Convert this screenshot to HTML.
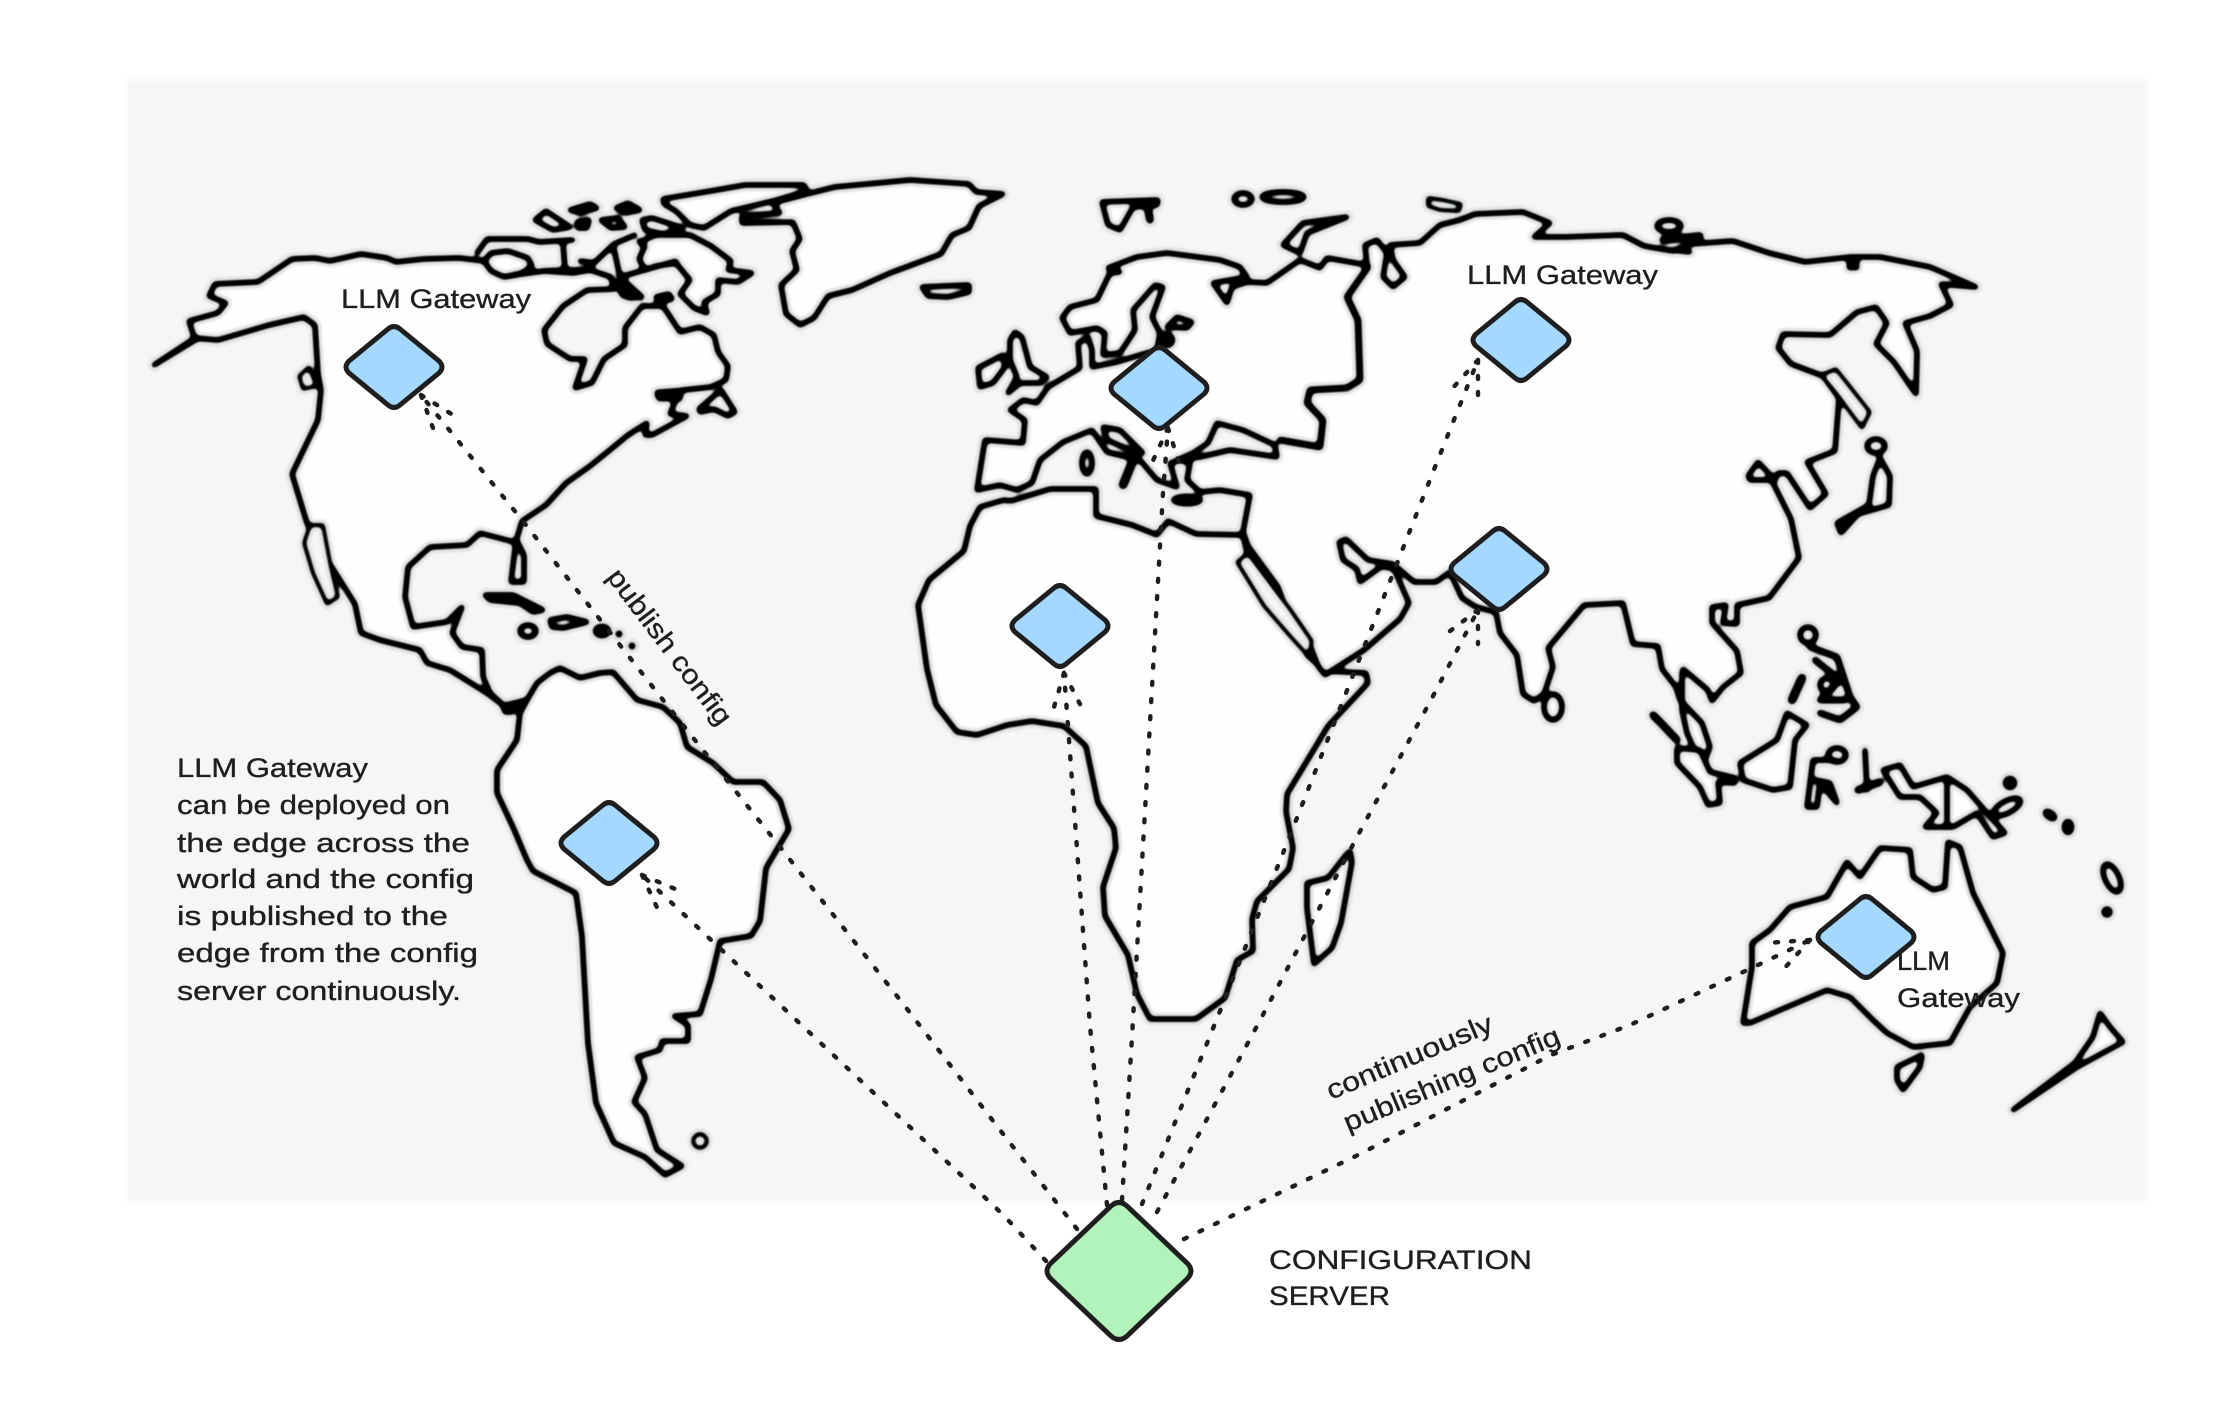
<!DOCTYPE html>
<html><head><meta charset="utf-8">
<style>
html,body{margin:0;padding:0;background:#fff}
svg{display:block}
.l{fill:#fefefe;stroke:#000;stroke-width:5.8;stroke-linejoin:round;stroke-linecap:round}
.g{fill:#f5f7f7;stroke:#000;stroke-width:5.8;stroke-linejoin:round;stroke-linecap:round}
.t{fill:#f5f7f7;stroke:#000;stroke-width:4.2;stroke-linejoin:round;stroke-linecap:round}
.n{fill:none;stroke:#000;stroke-width:5.8;stroke-linejoin:round;stroke-linecap:round}
.b{fill:#000;stroke:#000;stroke-width:3}
.d{fill:none;stroke:#1e1e1e;stroke-width:4.4;stroke-linecap:round;stroke-linejoin:round;stroke-dasharray:3 14.2}
.a{fill:none;stroke:#1e1e1e;stroke-width:4.4;stroke-linecap:round;stroke-dasharray:3 13}
.k{stroke:#1e1e1e;stroke-width:5;stroke-linejoin:round}
text{font-family:"Liberation Sans",sans-serif;font-size:27px;fill:#1e1e1e;stroke:#1e1e1e;stroke-width:.35}
</style></head><body>
<svg width="2240" height="1414" viewBox="0 0 2240 1414" xmlns="http://www.w3.org/2000/svg">
<defs><filter id="s" filterUnits="userSpaceOnUse" x="0" y="0" width="2240" height="1414" color-interpolation-filters="sRGB">
<feGaussianBlur stdDeviation="2.2"/>
<feComponentTransfer>
<feFuncR type="table" tableValues="0 0 0 0 .05 .45 .82 .88 .9 .9 1"/>
<feFuncG type="table" tableValues="0 0 0 0 .05 .45 .82 .88 .9 .9 1"/>
<feFuncB type="table" tableValues="0 0 0 0 .05 .45 .82 .88 .9 .9 1"/>
</feComponentTransfer>
<feGaussianBlur stdDeviation="0.6"/>
</filter></defs>
<g filter="url(#s)">
<rect width="2240" height="1414" fill="#fff"/>
<rect x="126" y="80" width="2022" height="1121" fill="#f5f7f7"/>
<!-- North America -->
<polygon class="l" points="154,365 195,340 189,321 218,313 226,303 209,296 215,284 258,282 292,259 315,258 330,261 361,254 387,258 396,262 424,259 459,258 484,261 491,271 504,277 522,274 544,271 573,273 590,270 611,277 614,289 587,290 563,306 544,330 547,344 570,359 585,359 575,388 592,383 604,359 625,345 625,328 642,306 663,306 680,332 700,327 714,335 718,352 728,366 726,380 711,387 683,390 657,395 676,399 670,414 687,416 652,435 645,435 647,423 628,435 611,449 590,466 566,483 546,505 522,521 516,541 511,582 524,582 524,555 518,543 480,533 467,545 430,547 408,567 405,597 413,627 447,622 462,607 452,633 462,647 482,650 483,677 490,693 503,705 487,693 450,670 427,663 420,650 380,640 361,633 355,604 321,550 307,523 292,474 318,420 321,390 318,374 315,325 304,317 269,325 218,340 195,338"/>
<polygon class="t" points="310,525 323,525 330,562 338,597 327,604 313,573 304,543"/>
<polygon class="t" points="299,376 309,367 317,386 303,389"/>
<polygon class="l" points="484,261 491,253 508,251 528,258 532,266 522,273 504,277 491,271"/>
<polyline class="n" points="477,253 487,239 528,239 539,242 573,240"/>
<polyline class="n" points="563,242 565,270 544,271"/>
<polyline class="n" points="565,270 587,270 594,263 580,261"/>
<polyline class="n" points="594,263 614,244 635,235"/>
<polygon class="l" points="639,242 656,235 690,235 711,246 731,261 728,270 752,273 738,282 718,280 718,294 704,302 707,313 694,308 680,294 690,280 676,263 656,266 645,270 639,259 645,246"/>
<polyline class="n" points="614,249 620,277 642,297"/>
<polyline class="n" points="620,277 676,261"/>
<polygon class="l" points="618,283 632,292 642,297 630,298 622,295"/>
<polygon class="g" points="656,297 669,294 672,299 658,302"/>
<polygon class="l" points="535,220 546,211 570,227 553,230"/>
<polygon class="g" points="570,210 590,204 597,208 580,213"/>
<polygon class="g" points="577,222 589,220 587,228 578,228"/>
<polygon class="g" points="601,220 618,218 625,227 611,228"/>
<polygon class="g" points="616,208 628,203 640,210 625,213"/>
<polygon class="l" points="642,220 652,218 683,228 663,234 645,230"/>
<polygon class="l" points="663,199 711,191 745,185 804,185 807,191 773,201 731,211 704,228 690,225 676,211 664,204"/>
<polygon class="l" points="773,203 807,194 835,187 910,180 969,184 976,192 1003,194 979,206 969,228 952,235 941,254 890,273 852,290 828,296 814,318 800,325 786,314 781,285 797,270 792,251 800,239 793,222 742,223 742,216 780,213"/>
<polygon class="g" points="922,287 969,285 969,292 948,297 928,296"/>
<polygon class="l" points="699,409 721,390 735,412 728,416 714,409 700,412"/>
<polygon class="b" points="656,391 683,389 681,400 658,400"/>
<!-- Caribbean -->
<polygon class="g" points="485,595 513,595 523,600 543,610 533,612 520,603 490,600"/>
<polygon class="l" points="550,620 567,617 587,622 563,628 552,627"/>
<ellipse class="g" cx="528" cy="631" rx="8" ry="6"/>
<ellipse class="b" cx="602" cy="631" rx="8" ry="6"/>
<circle class="b" cx="619" cy="634" r="2.5"/><circle class="b" cx="632" cy="646" r="2.5"/>
<!-- South America -->
<polygon class="l" points="527,700 520,713 517,740 497,770 497,793 513,827 527,860 533,871 576,893 582,936 588,1043 596,1103 614,1143 645,1157 665,1175 682,1166 657,1150 645,1114 634,1102 645,1078 637,1057 660,1050 662,1041 688,1041 688,1025 674,1016 700,1014 711,979 720,941 751,936 760,921 766,868 789,829 780,800 763,782 733,782 713,763 687,747 680,723 663,707 637,700 613,672 600,673 580,678 560,668 550,673 537,683"/>
<polygon class="g" points="503,706 527,700 512,712 505,712"/>
<circle class="t" cx="700" cy="1141" r="7"/>
<!-- Africa -->
<polygon class="l" points="1004,500 980,507 970,526 964,551 929,580 918,605 927,669 936,705 957,732 977,735 1007,725 1032,721 1064,726 1086,746 1098,803 1114,828 1116,848 1103,887 1105,916 1128,955 1137,994 1150,1019 1196,1019 1225,998 1237,960 1253,951 1252,919 1257,901 1289,869 1293,848 1286,812 1287,794 1328,726 1368,683 1366,673 1325,671 1307,655 1300,633 1275,612 1243,562 1248,557 1243,535 1196,534 1168,521 1157,535 1132,525 1096,516 1096,489 1050,489 1011,501"/>
<polygon class="l" points="1307,883 1328,878 1346,855 1350,851 1352,862 1341,923 1332,948 1314,964 1307,908"/>
<!-- Eurasia -->
<polygon class="l" points="977,490 985,440 1023,443 1025,420 1010,410 1023,400 1037,403 1048,387 1080,368 1078,343 1088,337 1092,350 1092,367 1117,362 1157,350 1160,333 1152,317 1163,287 1155,285 1133,310 1135,330 1120,353 1103,355 1105,333 1097,328 1070,333 1062,318 1070,307 1097,300 1110,273 1120,272 1108,268 1137,257 1167,253 1220,260 1240,267 1247,277 1213,283 1227,303 1232,287 1247,282 1267,283 1300,260 1320,268 1327,258 1367,265 1365,245 1377,240 1387,253 1383,277 1393,287 1405,277 1393,260 1390,245 1420,243 1440,225 1460,220 1475,214 1523,212 1550,223 1534,237 1566,237 1623,235 1644,246 1673,251 1691,244 1733,241 1769,253 1805,262 1851,257 1880,257 1930,267 1976,287 1941,284 1951,305 1930,316 1905,323 1917,351 1916,394 1894,362 1876,344 1887,323 1876,307 1857,312 1830,335 1783,334 1778,348 1791,364 1823,376 1839,398 1835,451 1807,462 1826,494 1810,508 1787,473 1778,473 1773,483 1791,519 1799,558 1769,598 1737,605 1737,624 1723,623 1726,605 1712,607 1712,623 1737,651 1741,673 1723,687 1712,701 1708,690 1683,669 1682,673 1682,710 1687,733 1702,767 1710,747 1702,723 1680,700 1676,687 1662,669 1658,646 1633,644 1623,603 1584,605 1548,648 1553,667 1544,694 1534,701 1523,694 1517,655 1500,633 1496,612 1476,607 1462,598 1450,572 1436,582 1414,582 1393,564 1368,560 1346,539 1339,542 1343,560 1357,569 1360,582 1382,566 1394,569 1409,603 1400,619 1364,650 1325,675 1318,666 1311,648 1286,609 1278,587 1248,546 1243,532 1250,495 1220,490 1200,492 1187,480 1190,463 1180,460 1170,463 1177,487 1157,480 1140,460 1107,452 1092,430 1063,442 1040,460 1032,483 1017,490 1000,485"/>
<polyline class="n" style="stroke-width:7" points="1368,267 1347,297 1358,320 1360,380 1347,388 1310,390 1307,403 1323,420 1320,447 1280,440"/>
<polygon class="g" points="1177,460 1200,457 1230,450 1277,457 1275,445 1243,430 1217,423 1208,443 1193,453"/>
<polygon class="t" points="1237,562 1248,553 1290,609 1312,641 1309,657 1290,636 1264,606"/>
<polygon class="g" points="1103,427 1120,430 1143,453 1130,450 1107,440"/>
<ellipse class="g" cx="1087" cy="463" rx="5" ry="11"/>
<polyline class="n" style="stroke-width:9" points="1132,463 1123,485"/>
<ellipse class="b" cx="1187" cy="500" rx="15" ry="5"/>
<polygon class="l" points="1167,327 1177,317 1192,322 1187,328"/>
<circle class="b" cx="1167" cy="340" r="7"/>
<!-- Britain/Ireland -->
<polygon class="l" points="1008,393 1020,383 1040,383 1047,377 1030,367 1022,337 1015,332 1010,340 1010,360 1017,377"/>
<polygon class="l" points="978,368 1003,355 1005,367 993,383 980,387"/>
<!-- Arctic -->
<polygon class="l" points="1102,202 1158,200 1157,205 1133,207 1120,230 1108,225"/>
<polyline class="n" style="stroke-width:8" points="1147,203 1150,220"/>
<ellipse class="g" cx="1243" cy="199" rx="9" ry="6"/>
<ellipse class="g" cx="1283" cy="197" rx="21" ry="5"/>
<polygon class="l" points="1283,245 1303,223 1347,217 1307,233 1300,253"/>
<polygon class="t" points="1428,198 1443,200 1461,204 1459,211 1440,210 1428,206"/>
<ellipse class="g" cx="1669" cy="226" rx="12" ry="6"/>
<polyline class="n" style="stroke-width:8" points="1663,240 1700,236"/>
<polyline class="n" points="1672,250 1690,252"/>
<rect class="b" x="1848" y="258" width="10" height="11"/>
<!-- Japan etc -->
<ellipse class="l" cx="1876" cy="446" rx="9" ry="7"/>
<polygon class="l" points="1880,458 1890,476 1889,505 1858,514 1841,533 1837,523 1869,505 1873,476"/>
<polygon class="t" points="1821,375 1836,369 1870,412 1862,428 1838,396"/>
<polygon class="l" points="1748,476 1758,462 1775,480 1750,480"/>
<ellipse class="l" cx="1553" cy="707" rx="9" ry="13"/>
<!-- SE Asia -->
<polyline class="n" style="stroke-width:8" points="1653,715 1660,722 1677,740"/>
<polygon class="l" points="1677,748 1700,750 1710,772 1735,778 1735,783 1718,782 1720,803 1708,805 1700,787 1677,763"/>
<polygon class="l" points="1740,763 1777,740 1787,713 1807,725 1795,740 1790,787 1773,790 1743,780"/>
<polyline class="n" style="stroke-width:9" points="1802,678 1792,700"/>
<ellipse class="l" cx="1808" cy="635" rx="8" ry="8"/>
<polyline class="n" style="stroke-width:7" points="1810,647 1837,657 1850,697 1857,707 1840,720 1820,713"/>
<circle class="l" cx="1827" cy="685" r="7"/>
<polyline class="n" style="stroke-width:7" points="1815,660 1840,680 1820,700 1845,700"/>
<ellipse class="l" cx="1837" cy="755" rx="9" ry="7"/>
<polyline class="n" points="1835,760 1813,760 1807,807 1817,807 1820,783 1837,803 1830,783 1815,780"/>
<polyline class="n" points="1865,750 1867,790"/>
<polyline class="n" style="stroke-width:8" points="1858,790 1880,782"/>
<polygon class="l" points="1883,770 1900,765 1913,787 1947,777 1967,790 1987,813 2005,833 1993,837 1977,813 1953,827 1925,827 1937,813 1920,797 1900,797"/>
<polyline class="n" points="1947,777 1947,827"/>
<ellipse class="l" cx="2007" cy="807" rx="15" ry="6" transform="rotate(-28 2007 807)"/>
<circle class="b" cx="2010" cy="783" r="6"/>
<ellipse class="b" cx="2050" cy="815" rx="7" ry="4" transform="rotate(35 2050 815)"/>
<ellipse class="b" cx="2068" cy="827" rx="5" ry="7"/>
<ellipse class="g" cx="2112" cy="878" rx="7" ry="15" transform="rotate(-25 2112 878)"/>
<circle class="b" cx="2107" cy="912" r="4.5"/>
<!-- Australia -->
<polygon class="l" points="1743,1023 1752,967 1752,943 1770,930 1790,907 1827,897 1847,862 1860,877 1880,848 1910,850 1913,877 1933,890 1945,887 1948,842 1960,847 1973,893 2003,953 1997,983 1970,1007 1950,1043 1913,1047 1887,1033 1873,1020 1850,997 1827,990 1780,1010 1750,1023"/>
<polygon class="l" points="1897,1067 1922,1055 1920,1067 1903,1090 1897,1080"/>
<polygon class="l" points="2093,1037 2100,1013 2110,1027 2123,1042 2077,1067 2013,1110 2030,1097 2075,1063"/>
</g>
<!-- Dotted connectors -->
<polyline class="d" points="1077,1229 1000,1130 904,1005 773,838 663,700 522,520 421,395"/>
<polyline class="a" points="421,395 437,439"/><polyline class="a" points="421,395 461,420"/>
<polyline class="d" points="1046,1261 1008,1220 995,1207 726,954 642,875"/>
<polyline class="a" points="642,875 660,914"/><polyline class="a" points="642,875 680,891"/>
<polyline class="d" points="1107,1205 1090,1026 1068,726 1064,673"/>
<polyline class="a" points="1064,673 1052,714"/><polyline class="a" points="1064,673 1084,712"/>
<polyline class="d" points="1122,1200 1132,1037 1145,811 1163,493 1168,428"/>
<polyline class="a" points="1168,428 1150,467"/><polyline class="a" points="1168,428 1181,469"/>
<polyline class="d" points="1142,1204 1214,1026 1293,828 1357,665 1435,467 1478,360"/>
<polyline class="a" points="1478,360 1450,391"/><polyline class="a" points="1478,360 1478,402"/>
<polyline class="d" points="1157,1212 1257,1026 1357,837 1432,698 1478,610"/>
<polyline class="a" points="1478,610 1450,631"/><polyline class="a" points="1478,610 1478,644"/>
<polyline class="d" points="1184,1239 1360,1154 1551,1055 1630,1025 1758,965 1810,940"/>
<polyline class="a" points="1810,940 1767,943"/><polyline class="a" points="1810,940 1781,972"/>
<!-- Diamonds -->
<g fill="#a5d8ff" class="k">
<path transform="translate(394 367)" d="M-6,-38 Q0,-43 6,-38 L45,-6 Q51,0 45,6 L6,38 Q0,43 -6,38 L-45,6 Q-51,0 -45,-6 Z"/>
<path transform="translate(1159 388)" d="M-6,-38 Q0,-43 6,-38 L45,-6 Q51,0 45,6 L6,38 Q0,43 -6,38 L-45,6 Q-51,0 -45,-6 Z"/>
<path transform="translate(1060 626)" d="M-6,-38 Q0,-43 6,-38 L45,-6 Q51,0 45,6 L6,38 Q0,43 -6,38 L-45,6 Q-51,0 -45,-6 Z"/>
<path transform="translate(1521 340)" d="M-6,-38 Q0,-43 6,-38 L45,-6 Q51,0 45,6 L6,38 Q0,43 -6,38 L-45,6 Q-51,0 -45,-6 Z"/>
<path transform="translate(1499 569)" d="M-6,-38 Q0,-43 6,-38 L45,-6 Q51,0 45,6 L6,38 Q0,43 -6,38 L-45,6 Q-51,0 -45,-6 Z"/>
<path transform="translate(609 843)" d="M-6,-38 Q0,-43 6,-38 L45,-6 Q51,0 45,6 L6,38 Q0,43 -6,38 L-45,6 Q-51,0 -45,-6 Z"/>
<path transform="translate(1866 937)" d="M-6,-38 Q0,-43 6,-38 L45,-6 Q51,0 45,6 L6,38 Q0,43 -6,38 L-45,6 Q-51,0 -45,-6 Z"/>
</g>
<path fill="#b2f2bb" class="k" transform="translate(1119 1271)" d="M-8,-65 Q0,-72 8,-65 L68,-8 Q76,0 68,8 L8,65 Q0,72 -8,65 L-68,8 Q-76,0 -68,-8 Z"/>
<!-- Labels -->
<text x="341" y="308" textLength="190" lengthAdjust="spacingAndGlyphs">LLM Gateway</text>
<text x="1467" y="284" textLength="191" lengthAdjust="spacingAndGlyphs">LLM Gateway</text>
<text x="177" y="777" textLength="191" lengthAdjust="spacingAndGlyphs">LLM Gateway</text>
<text x="177" y="814" textLength="273" lengthAdjust="spacingAndGlyphs">can be deployed on</text>
<text x="177" y="852" textLength="293" lengthAdjust="spacingAndGlyphs">the edge across the</text>
<text x="177" y="888" textLength="297" lengthAdjust="spacingAndGlyphs">world and the config</text>
<text x="177" y="925" textLength="271" lengthAdjust="spacingAndGlyphs">is published to the</text>
<text x="177" y="962" textLength="301" lengthAdjust="spacingAndGlyphs">edge from the config</text>
<text x="177" y="1000" textLength="284" lengthAdjust="spacingAndGlyphs">server continuously.</text>
<text transform="translate(606 577) rotate(53)" textLength="188" lengthAdjust="spacingAndGlyphs">publish config</text>
<text transform="translate(1331 1100) rotate(-23)" textLength="178" lengthAdjust="spacingAndGlyphs">continuously</text>
<text transform="translate(1348 1132) rotate(-22.6)" textLength="232" lengthAdjust="spacingAndGlyphs">publishing config</text>
<text x="1269" y="1269" textLength="263" lengthAdjust="spacingAndGlyphs">CONFIGURATION</text>
<text x="1269" y="1305" textLength="121" lengthAdjust="spacingAndGlyphs">SERVER</text>
<text x="1897" y="970" textLength="53" lengthAdjust="spacingAndGlyphs">LLM</text>
<text x="1897" y="1007" textLength="123" lengthAdjust="spacingAndGlyphs">Gateway</text>
</svg>
</body></html>
